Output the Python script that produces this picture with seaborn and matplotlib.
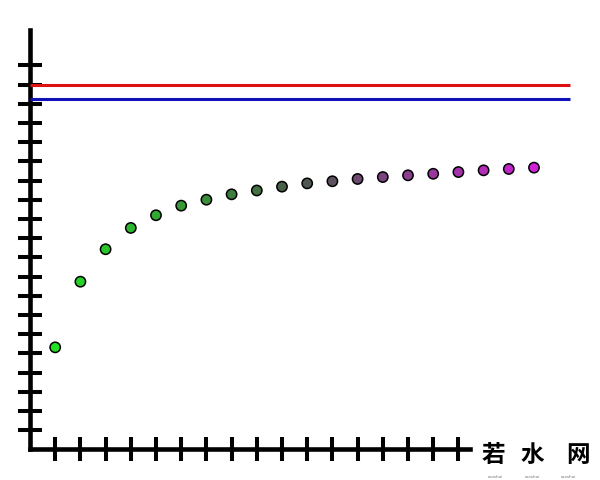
import numpy as np
import pandas as pd
import matplotlib
matplotlib.use("Agg")
import matplotlib.pyplot as plt
import seaborn as sns

# values
n_values = list(range(1, 21))
seq_values = [5.31, 8.73, 10.42, 11.53, 12.19, 12.69, 13.00, 13.28, 13.48, 13.68,
              13.85, 13.96, 14.08, 14.18, 14.27, 14.35, 14.44, 14.53, 14.60, 14.67]
red_level = 19.0
blue_level = 18.26
x_ticks = list(range(1, 18))
y_ticks = list(range(1, 21))
watermark = ["若", "水", "网"]

sns.set_style("white")
plt.rcParams["font.family"] = ["Noto Sans CJK SC", "DejaVu Sans"]

df = pd.DataFrame({"n": n_values, "a": seq_values})
palette = sns.blend_palette(["#22e022", "#4a5a4a", "#d020d8"], len(n_values))

fig = plt.figure(figsize=(6, 4.8), dpi=100)
ax = fig.add_axes([30 / 600, 30.7 / 480, 550 / 600, 450 / 480])

sns.scatterplot(data=df, x="n", y="a", hue="n", palette=palette, legend=False,
                s=55, edgecolor="black", linewidth=1.1, zorder=5, ax=ax)

x_end = (570 - 30) / 25.2
ax.hlines(red_level, 0, x_end, color="#dd1111", lw=2.2, zorder=3)
ax.hlines(blue_level, 0, x_end, color="#1111bb", lw=2.2, zorder=3)

ax.set_xlim(0, 550 / 25.2)
ax.set_ylim(0, 450 / 19.2)
for side in ["top", "right"]:
    ax.spines[side].set_visible(False)
for side in ["left", "bottom"]:
    ax.spines[side].set_linewidth(3.3)
    ax.spines[side].set_color("black")
ax.spines["left"].set_bounds(0, (449.3 - 30) / 19.2)
ax.spines["bottom"].set_bounds(0, (470 - 30) / 25.2)
ax.set_xticks(x_ticks)
ax.set_yticks(y_ticks)
ax.tick_params(bottom=True, left=True, direction="inout", length=17.5, width=2.9,
               color="black", labelbottom=False, labelleft=False)
ax.set_xlabel("")
ax.set_ylabel("")

for ch, xp in zip(watermark, [493, 532, 578]):
    fig.text(xp / 600, 1 - 455 / 480, ch, fontsize=17, ha="center", va="center",
             color="black", fontweight="bold")
for xp in [495, 532, 568]:
    fig.text(xp / 600, 1 - 477 / 480, "ruoshui", fontsize=3, ha="center",
             va="center", color="#777777", family="DejaVu Sans")

fig.savefig("out.png", dpi=100)
